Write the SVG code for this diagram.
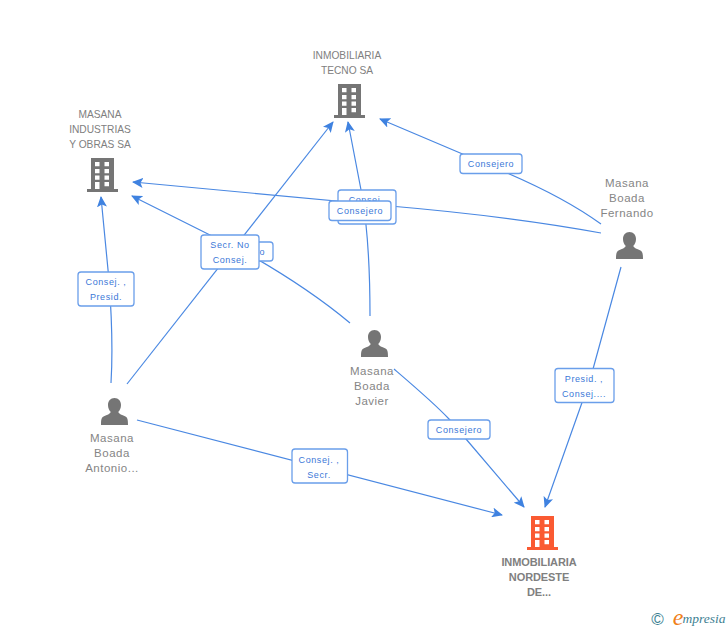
<svg xmlns="http://www.w3.org/2000/svg" width="728" height="630" viewBox="0 0 728 630">
<style>
text{font-family:"Liberation Sans",Arial,sans-serif;text-anchor:middle}
.u{font-size:10.200px;fill:#808080}
.n{font-size:11.500px;fill:#858585;letter-spacing:.5px}
.b{font-weight:bold;fill:#808080;font-size:11px;letter-spacing:-.1px}
.l{font-size:9px;fill:#3b78d8;letter-spacing:.6px}
.c{fill:none;stroke:#4a88e2;stroke-width:1.200;marker-end:url(#a)}
.box{fill:#fff;stroke:#6a9eea;stroke-width:1.300}
.w{fill:#fff}
</style>
<defs>
<marker id="a" markerUnits="userSpaceOnUse" markerWidth="12" markerHeight="10" refX="10" refY="5" orient="auto"><path d="M0 0L11 5L0 10L2.500 5Z" fill="#3f82e0"/></marker>
<g id="bld"><path d="M4 0H27V31H31V34H0V31H4Z"/><path class="w" d="M8 4h4.500v4.300H8zM17.500 4h4.500v4.300h-4.500zM8 11h4.500v4.300H8zM17.500 11h4.500v4.300h-4.500zM8 17.500h4.500v4.300H8zM17.500 17.500h4.500v4.300h-4.500zM8 24h4.500v7H8zM17.500 24h4.500v4.300h-4.500z"/></g>
<path id="psn" d="M13.500 0C17.500 0 20 3 20 7C20 10 18.800 12.500 17.200 14C18 16 21 17 24 18.300C26.500 19.500 27 21.500 27 27H0C0 21.500.5 19.500 3 18.300C6 17 9 16 9.800 14C8.200 12.500 7 10 7 7C7 3 9.500 0 13.500 0Z"/>
</defs>
<g id="connectors">
<path class="c" d="M111 383C113 350 112 320 109 280L101 197"/>
<path class="c" d="M127 384L333 122"/>
<path class="c" d="M137 420L502 515"/>
<path class="c" d="M350 323C320 298 285 275 250 255L132 196"/>
<path class="c" d="M370 316C370 270 368 230 362 195L348 122"/>
<path class="c" d="M394 369C415 387 435 404 449 419C455 426 460 432 466 439L524 507"/>
<path class="c" d="M601 224C575 205 540 187 505 172L380 119"/>
<path class="c" d="M601 233C530 220 460 212 390 206L133 182"/>
<path class="c" d="M621 267L590 380L545 507"/>
</g>
<g id="edge-labels">
<g><rect class="box" x="211" y="242" width="62" height="19" rx="3"/><text class="l" x="242" y="255">Consejero</text></g>
<g><rect class="box" x="338" y="190" width="58" height="34" rx="3"/><text class="l" x="366" y="203">Consej.</text></g>
<g><rect class="box" x="329" y="201" width="62" height="19.500" rx="3"/><text class="l" x="360" y="214">Consejero</text></g>
<g><rect class="box" x="201" y="235" width="58" height="34" rx="3"/><text class="l" x="230" y="248">Secr. No</text><text class="l" x="230" y="263">Consej.</text></g>
<g><rect class="box" x="78" y="272" width="56" height="34" rx="3"/><text class="l" x="106" y="285">Consej. ,</text><text class="l" x="106" y="300">Presid.</text></g>
<g><rect class="box" x="460" y="154" width="62" height="19.500" rx="3"/><text class="l" x="491" y="167">Consejero</text></g>
<g><rect class="box" x="428" y="420" width="62" height="19" rx="3"/><text class="l" x="459" y="433">Consejero</text></g>
<g><rect class="box" x="292" y="449" width="55.500" height="34" rx="3"/><text class="l" x="319" y="463">Consej. ,</text><text class="l" x="319" y="478">Secr.</text></g>
<g><rect class="box" x="555" y="368.500" width="59" height="34" rx="3"/><text class="l" x="584" y="382">Presid. ,</text><text class="l" x="584" y="397">Consej....</text></g>
</g>
<g id="tecno" fill="#757575"><use href="#bld" x="334" y="84"/><text class="u" x="347" y="59">INMOBILIARIA</text><text class="u" x="347" y="74">TECNO SA</text></g>
<g id="industrias" fill="#757575"><use href="#bld" x="87" y="158"/><text class="u" x="100" y="118">MASANA</text><text class="u" x="100" y="133">INDUSTRIAS</text><text class="u" x="100" y="148">Y OBRAS SA</text></g>
<g id="fernando" fill="#757575"><use href="#psn" x="616" y="232"/><text class="n" x="627" y="187">Masana</text><text class="n" x="627" y="202">Boada</text><text class="n" x="627" y="217">Fernando</text></g>
<g id="javier" fill="#757575"><use href="#psn" x="361" y="330"/><text class="n" x="372" y="375">Masana</text><text class="n" x="372" y="390">Boada</text><text class="n" x="372" y="405">Javier</text></g>
<g id="antonio" fill="#757575"><use href="#psn" x="101" y="398"/><text class="n" x="112" y="442">Masana</text><text class="n" x="112" y="457">Boada</text><text class="n" x="112" y="472">Antonio...</text></g>
<g id="nordeste" fill="#fa5a32"><use href="#bld" x="527" y="516"/><text class="b" x="539" y="566">INMOBILIARIA</text><text class="b" x="539" y="581">NORDESTE</text><text class="b" x="539" y="596">DE...</text></g>
<g id="logo"><text x="657.500" y="625" font-size="17" fill="#3d7f92">©</text><text x="678" y="625" font-size="24" fill="#f08019" style="font-family:'Liberation Serif',serif;font-style:italic">e</text><text x="704" y="623" font-size="13.500" fill="#3d7f92" style="font-family:'Liberation Serif',serif;font-style:italic">mpresia</text></g>
</svg>
